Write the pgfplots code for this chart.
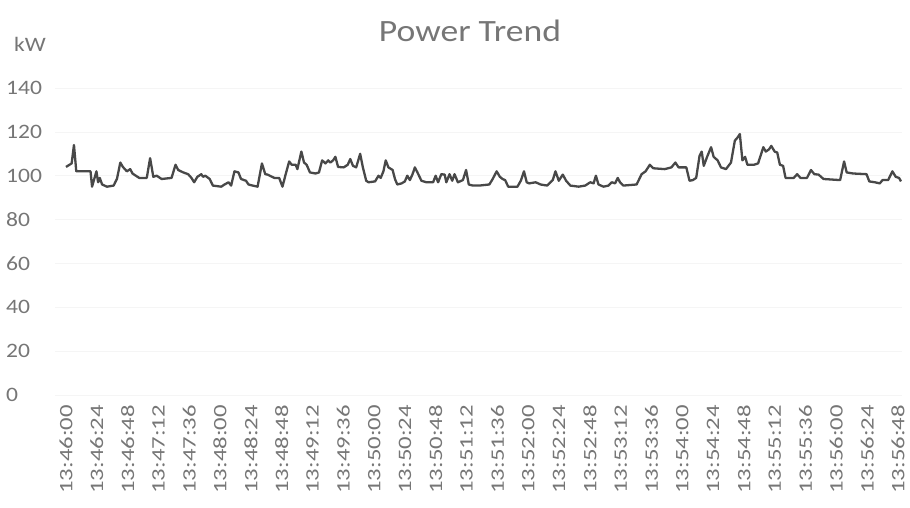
\documentclass[border=0pt]{standalone}
\usepackage{fontspec}
\setmainfont{Carlito}
\newfontfamily\wfont{Carlito}[FakeStretch=1.15]
\newfontfamily\xfont{Carlito}[FakeStretch=1.3]
\usepackage{pgfplots}
\usepackage{pgfplotstable}
\pgfplotsset{compat=1.18}
\definecolor{txt}{HTML}{767676}
\definecolor{ln}{HTML}{484848}
\pgfplotstableread{
s v
0 104
4.4 105.6
6.2 114
8.0 102
19.1 102
20.3 95
23.7 102
25.0 97
26.3 99
28.1 96
31.9 95
37.1 95.5
39.7 98.6
42.3 106
44.3 104
47.4 102
50.0 103
51.8 101
54.4 100
57.0 99
62.9 99
65.5 108
68.0 99.5
70.6 100
74.5 98.5
82.2 99
85.3 105
87.4 102.6
91.3 101.5
95.1 100.7
97.7 99
99.8 97
102.3 99.5
105.4 100.7
106.7 99.5
108.5 100
111.9 98.5
114.4 95.5
120.9 95
123.5 96
126.6 97
128.6 95.5
131.2 102
134.3 101.5
136.3 98.5
140.2 97.7
142.1 96
145.4 95.5
149.2 95
152.6 105.6
155.2 100.7
157.0 100.5
162.2 99
166.0 99
168.6 95
171.1 100.7
173.8 106.5
175.8 105
178.9 105
180.2 103
183.3 111
185.4 106
187.4 105
190.0 101.5
194.3 101
197.0 101.5
199.5 107
202.1 105.6
204.2 107
205.9 106
208.0 107
209.8 108.6
211.9 104
216.3 103.8
219.4 105
221.4 107.6
223.5 104.5
226.0 103.8
229.1 110
231.2 103.8
233.8 97.7
235.6 97
240.7 97.4
243.4 100
245.1 99
247.2 102
249.0 107
251.1 103.8
254.4 102.6
256.2 98.5
258.0 96
261.4 96.5
263.9 97.4
265.8 100
267.8 98
269.9 100.7
271.7 103.8
273.7 101.5
276.8 97.7
280.7 97
285.9 97
287.9 100
289.8 97
292.3 100.7
294.9 100.5
296.2 97
298.7 100.7
300.8 97.7
302.6 100.7
305.2 97
309.1 98
311.6 102.6
313.7 96
316.8 95.5
321.9 95.5
329.7 96
332.3 98.5
335.4 102
337.9 99.5
340.0 98.5
342.0 98
344.4 95
351.6 95
354.2 97.7
356.7 102
358.8 97
360.6 96.5
365.8 97
369.6 96
374.8 95.5
379.1 98
381.2 102
383.8 97.7
386.9 100.5
389.5 97.7
392.8 95.5
399.3 95
404.4 95.5
408.3 97
410.9 96.5
412.7 100
414.7 96
418.6 95
422.5 95.5
425.1 97
427.6 96.5
429.7 99
431.5 97
434.1 95.5
444.4 96
448.3 100.7
451.4 102
454.7 105
457.3 103.4
466.3 103
471.5 103.8
474.6 106
477.1 103.8
483.1 103.8
485.6 97.7
488.2 98
490.8 99
493.4 109
495.1 111
496.7 104.5
499.3 108.6
502.4 113
504.4 108.6
507.5 107
510.1 103.8
514.0 103
517.9 106
520.9 116
523.0 117.4
524.8 119
526.8 107
528.9 108.6
530.7 105
535.9 105
539.0 105.6
543.1 113
545.0 111
547.5 112
549.3 113.6
551.9 111
553.9 110.6
556.0 105
558.5 104.5
560.4 99
566.8 99
569.4 100.7
572.0 99
577.1 99
580.2 102.6
582.8 100.7
586.1 100.5
590.0 98.5
602.9 98
606.0 106.5
608.0 101.5
613.2 101
623.5 100.7
625.6 97.4
630.0 97
633.8 96.5
635.9 98
640.3 98
643.6 102
646.2 99.5
648.8 99
650.3 97.4
}\powerdata
\begin{document}
\begin{tikzpicture}
\path[use as bounding box] (0,0) rectangle (910pt,508pt);
\begin{axis}[
  at={(55pt,113pt)}, anchor=south west,
  scale only axis, width=847pt, height=307pt,
  xmin=-8.57, xmax=651.1, ymin=0, ymax=140,
  ytick={0,20,...,140},
  xtick={0,24,...,648},
  xticklabels={13:46:00,13:46:24,13:46:48,13:47:12,13:47:36,13:48:00,13:48:24,13:48:48,13:49:12,13:49:36,13:50:00,13:50:24,13:50:48,13:51:12,13:51:36,13:52:00,13:52:24,13:52:48,13:53:12,13:53:36,13:54:00,13:54:24,13:54:48,13:55:12,13:55:36,13:56:00,13:56:24,13:56:48},
  axis line style={draw=none},
  major tick length=0pt,
  ymajorgrids, grid style={color=black!4, line width=0.6pt},
  /pgf/number format/assume math mode=true,
  tick label style={text=txt, inner sep=0pt},
  yticklabel style={font=\wfont\fontsize{20.5}{24}\selectfont, anchor=west, xshift=-49pt},
  xticklabel style={font=\xfont\fontsize{19}{23}\selectfont, rotate=90, anchor=east},
  xticklabel shift=10pt,
  clip=false,
]
\addplot[color=ln, line width=2.3pt, line join=round, mark=none] table[x=s, y=v] {\powerdata};
\end{axis}
\node[anchor=base, text=txt, font=\wfont\fontsize{31}{36}\selectfont, inner sep=0pt] at (470pt,466pt) {Power Trend};
\node[anchor=base west, text=txt, font=\wfont\fontsize{20.5}{24}\selectfont, inner sep=0pt] at (14pt,456pt) {kW};
\end{tikzpicture}
\end{document}
